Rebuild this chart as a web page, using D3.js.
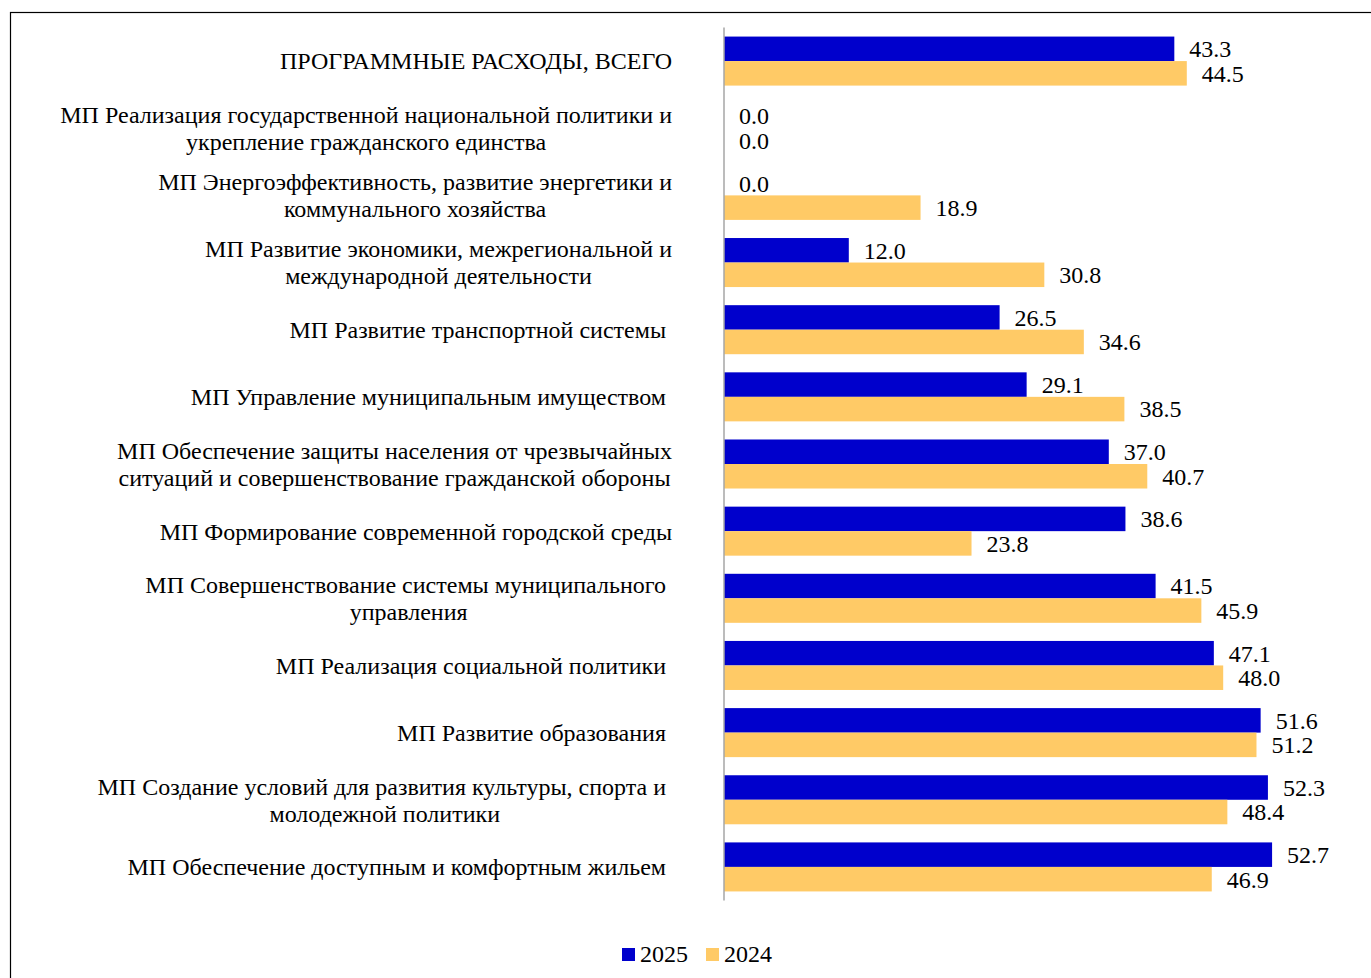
<!DOCTYPE html>
<html>
<head>
<meta charset="utf-8">
<script src="https://cdn.jsdelivr.net/npm/d3@7"></script>
<style>
  body { margin: 0; background: #fff; }
  svg text { font-family: "Liberation Serif", "Times New Roman", serif; fill: #000; }
</style>
</head>
<body>
<script>
// category labels, one array of lines per row (trailing nbsp mimics the source spacing)
const categories = [
  ["ПРОГРАММНЫЕ РАСХОДЫ, ВСЕГО"],
  ["МП Реализация государственной национальной политики и", "укрепление гражданского единства"],
  ["МП Энергоэффективность, развитие энергетики и", "коммунального хозяйства"],
  ["МП Развитие экономики, межрегиональной и", "международной деятельности"],
  ["МП Развитие транспортной системы\u00a0"],
  ["МП Управление муниципальным имуществом\u00a0"],
  ["МП Обеспечение защиты населения от чрезвычайных", "ситуаций и совершенствование гражданской обороны"],
  ["МП Формирование современной городской среды"],
  ["МП Совершенствование системы муниципального\u00a0", "управления"],
  ["МП Реализация социальной политики\u00a0"],
  ["МП Развитие образования\u00a0"],
  ["МП Создание условий для развития культуры, спорта и\u00a0", "молодежной политики"],
  ["МП Обеспечение доступным и комфортным жильем\u00a0"]
];

const seriesNames = ["2025", "2024"];
const values2025 = [43.3, 0.0, 0.0, 12.0, 26.5, 29.1, 37.0, 38.6, 41.5, 47.1, 51.6, 52.3, 52.7];
const values2024 = [44.5, 0.0, 18.9, 30.8, 34.6, 38.5, 40.7, 23.8, 45.9, 48.0, 51.2, 48.4, 46.9];
const colors = {"2025": "#0000cc", "2024": "#ffca66"};

const width = 1371, height = 978;
const fontSize = 24;

const svg = d3.select("body").append("svg")
    .attr("width", width)
    .attr("height", height);

// chart frame, runs off the right and bottom edge like the source
svg.append("rect")
    .attr("x", 10.5).attr("y", 12.5)
    .attr("width", 1400).attr("height", 1000)
    .attr("fill", "none")
    .attr("stroke", "#000")
    .attr("stroke-width", 1.2);

const keys = categories.map((c, i) => i);

const x = d3.scaleLinear()
    .domain([0, 60])
    .range([724, 1348]);

const y = d3.scaleBand()
    .domain(keys)
    .range([27.5, 900.5])
    .paddingInner(0.27)
    .paddingOuter(0.135);

const ySub = d3.scaleBand()
    .domain(seriesNames)
    .range([0, y.bandwidth()]);

const rows = keys.map(i => ({
  i,
  lines: categories[i],
  vals: [{key: "2025", v: values2025[i]}, {key: "2024", v: values2024[i]}]
}));

const row = svg.append("g")
  .selectAll("g")
  .data(rows)
  .join("g")
    .attr("transform", d => `translate(0,${y(d.i)})`);

row.selectAll("rect")
  .data(d => d.vals)
  .join("rect")
    .attr("x", x(0))
    .attr("y", d => ySub(d.key))
    .attr("width", d => x(d.v) - x(0))
    .attr("height", ySub.bandwidth())
    .attr("fill", d => colors[d.key]);

row.selectAll("text.val")
  .data(d => d.vals)
  .join("text")
    .attr("class", "val")
    .attr("x", d => x(d.v) + 15)
    .attr("y", d => ySub(d.key) + ySub.bandwidth() / 2)
    .attr("dy", "0.35em")
    .attr("font-size", fontSize)
    .text(d => d3.format(".1f")(d.v));

// axis line
svg.append("line")
    .attr("x1", x(0)).attr("x2", x(0))
    .attr("y1", y.range()[0]).attr("y2", y.range()[1])
    .attr("stroke", "#a6a6a6")
    .attr("stroke-width", 1.5);

// category labels: block right-aligned, lines centred within block
const labelRight = 672;
const lineH = 27;
const lab = svg.append("g");
rows.forEach(d => {
  const g = lab.append("g");
  const cy = y(d.i) + y.bandwidth() / 2;
  const n = d.lines.length;
  const texts = g.selectAll("text")
    .data(d.lines)
    .join("text")
      .attr("font-size", fontSize)
      .attr("text-anchor", "middle")
      .attr("y", (t, j) => cy + (j - (n - 1) / 2) * lineH)
      .attr("dy", "0.35em")
      .text(t => t);
  let maxW = 0;
  texts.each(function() { maxW = Math.max(maxW, this.getComputedTextLength()); });
  texts.attr("x", labelRight - maxW / 2);
});

// legend
const legend = svg.append("g").attr("transform", "translate(622,954)");
const lx = [0, 84];
seriesNames.forEach((s, i) => {
  legend.append("rect")
      .attr("x", lx[i]).attr("y", -6)
      .attr("width", 13).attr("height", 13)
      .attr("fill", colors[s]);
  legend.append("text")
      .attr("x", lx[i] + 18).attr("y", 0)
      .attr("dy", "0.35em")
      .attr("font-size", fontSize)
      .text(s);
});
</script>
</body>
</html>
